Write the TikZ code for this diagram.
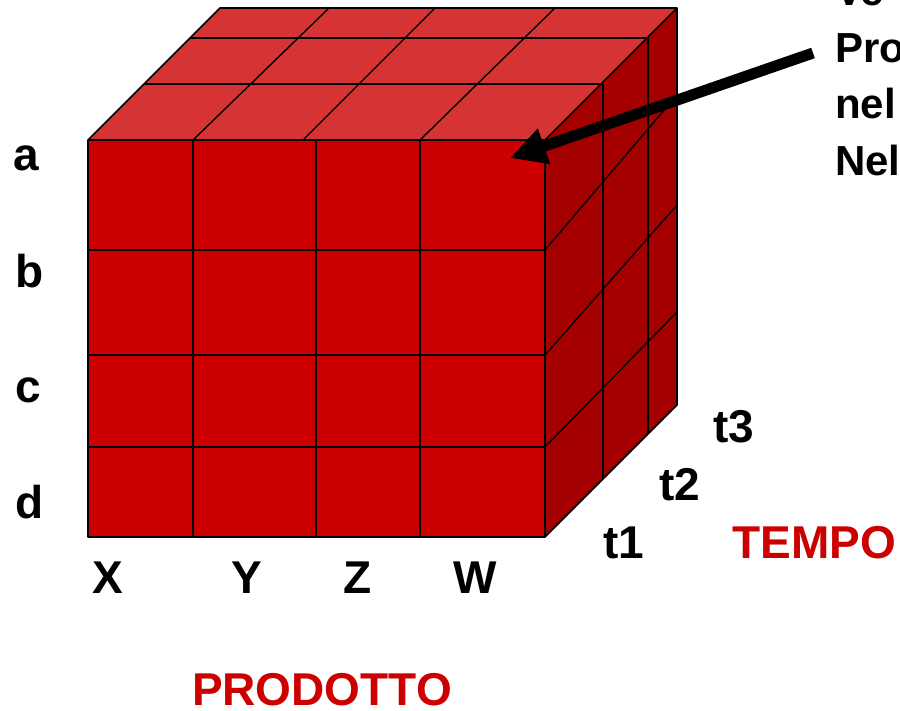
\documentclass[tikz,border=0pt]{standalone}
\usepackage{fontspec}
\setmainfont{Liberation Sans}
\usetikzlibrary{arrows.meta}
\definecolor{frontred}{RGB}{204,0,0}
\definecolor{topred}{RGB}{214,52,52}
\definecolor{sidered}{RGB}{165,0,0}

\begin{document}
\begin{tikzpicture}[x=1pt, y=-1pt,
        edge/.style={draw=black, line width=1.6pt, line join=round},
        gridline/.style={black, line width=1.4pt},
        lbl/.style={font=\fontsize{46}{46}\bfseries\selectfont, inner sep=0pt, anchor=base},
        axislbl/.style={lbl, text=frontred},
        note/.style={font=\fontsize{42}{42}\bfseries\selectfont, inner sep=0pt, anchor=base west},
        pointer/.style={-{Triangle[length=36pt, width=35pt]}, line width=11pt}
      ]
      \useasboundingbox (0,0) rectangle (900,710);
      \fill[topred] (88,140) -- (545,140) -- (677,8) -- (220,8) -- cycle;
      \fill[sidered] (545,140) -- (677,8) -- (677,405) -- (545,537) -- cycle;
      \fill[frontred] (88,140) rectangle (545,537);
      \draw[gridline] (144,84) -- (603,84) (190,38) -- (648,38);
      \foreach \x/\xb in {193/329, 303/435, 420/555}
        \draw[gridline] (\x,140) -- (\xb,8);
      \draw[gridline] (603,84) -- (603,479) (648,38) -- (648,434);
      \foreach \y/\yb in {250/95, 355/205, 447/312}
        \draw[gridline] (545,\y) -- (677,\yb);
      \foreach \x in {193, 316, 420}
        \draw[gridline] (\x,140) -- (\x,537);
      \foreach \y in {250, 355, 447}
        \draw[gridline] (88,\y) -- (545,\y);
      \draw[edge] (88,140) -- (220,8) -- (677,8) -- (677,405) -- (545,537) -- (88,537) -- cycle;
      \draw[edge] (88,140) -- (545,140) -- (677,8) (545,140) -- (545,537);
      \node[lbl] (rowa) at (26,170) {a};
      \node[lbl] (rowb) at (30,287) {b};
      \node[lbl] (rowc) at (28,402) {c};
      \node[lbl] (rowd) at (30,518) {d};
      \node[lbl] (colx) at (108,593) {X};
      \node[lbl] (coly) at (247,593) {Y};
      \node[lbl] (colz) at (358,593) {Z};
      \node[lbl] (colw) at (475,593) {W};
      \node[lbl] (tone) at (624,558) {t1};
      \node[lbl] (ttwo) at (680,500) {t2};
      \node[lbl] (tthree) at (734,442) {t3};
      \node[axislbl] (tempo) at (814,558) {TEMPO};
      \node[axislbl] (prodotto) at (322,705) {PRODOTTO};
      \node[note] (note1) at (835,5.5) {Ve};
      \node[note] (note2) at (835,62) {Pro};
      \node[note] (note3) at (835,118.5) {nel};
      \node[note] (note4) at (835,175) {Nel};
      \coordinate (tail) at (813,53);
      \coordinate (tip) at (510,158);
      \draw[pointer] (tail) -- (tip);
    \end{tikzpicture}
\end{document}
